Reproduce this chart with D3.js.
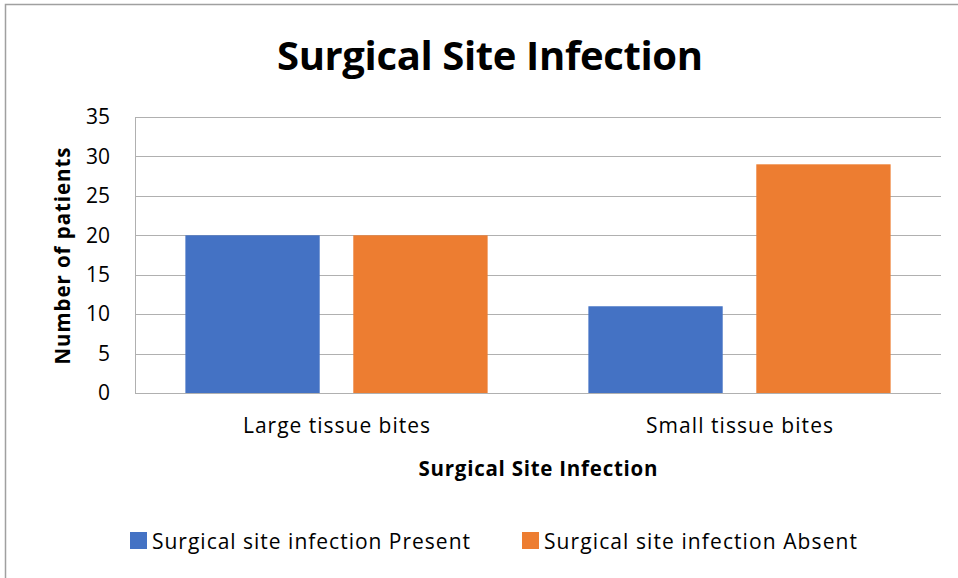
<!DOCTYPE html>
<html>
<head>
<meta charset="utf-8">
<script src="https://cdn.jsdelivr.net/npm/d3@7/dist/d3.min.js"></script>
<style>
  body { margin: 0; background: #fff; }
  text { font-family: "Open Sans", Lato, sans-serif; fill: #000; }
</style>
</head>
<body>
<div class="chart-area"></div>
<script>
var categories = ["Large tissue bites", "Small tissue bites"];
var seriesNames = ["Surgical site infection Present", "Surgical site infection Absent"];
var present = [20, 11];
var absent = [20, 29];
var yTicks = [0, 5, 10, 15, 20, 25, 30, 35];
var colors = ["#4472c4", "#ed7d31"];

var data = categories.map(function (c, i) {
    return { cat: c, values: [present[i], absent[i]] };
});

var W = 958, H = 578;
var margin = { left: 135, right: 17, top: 117, bottom: 185 };
var width = W - margin.left - margin.right,
    height = H - margin.top - margin.bottom;

var svg = d3.select(".chart-area").append("svg")
    .attr("width", W).attr("height", H);

// chart frame
svg.append("path")
    .attr("d", "M5.5,578 L5.5,4.5 L958,4.5")
    .attr("fill", "none").attr("stroke", "#a0a0a0").attr("stroke-width", 1.5);

var g = svg.append("g").attr("transform", "translate(" + margin.left + "," + margin.top + ")");

var x0 = d3.scaleBand().domain(categories).range([0, width]).paddingInner(0.25).paddingOuter(0.125);
var x1 = d3.scaleBand().domain([0, 1]).range([0, x0.bandwidth()]).paddingInner(0.2);
var y = d3.scaleLinear().domain([0, 35]).range([height, 0]);

// gridlines
g.append("g").selectAll("line").data(yTicks).enter().append("line")
    .attr("x1", 0).attr("x2", width)
    .attr("y1", function (d) { return Math.round(y(d)) + 0.5; })
    .attr("y2", function (d) { return Math.round(y(d)) + 0.5; })
    .attr("stroke", "#b0b0b0").attr("stroke-width", 1);

g.append("line").attr("x1", 0.5).attr("x2", 0.5).attr("y1", 0).attr("y2", height)
    .attr("stroke", "#b0b0b0");

var yAxis = g.append("g")
    .call(d3.axisLeft(y).tickValues(yTicks).tickSize(0).tickPadding(25));
yAxis.select(".domain").remove();
yAxis.selectAll("text").style("font-size", "21px").attr("fill", "#000")
    .style("font-family", "'Open Sans', sans-serif");

// bars
var groups = g.selectAll(".grp").data(data).enter().append("g")
    .attr("transform", function (d) { return "translate(" + x0(d.cat) + ",0)"; });
groups.selectAll("rect").data(function (d) { return d.values; }).enter().append("rect")
    .attr("x", function (d, i) { return x1(i); })
    .attr("y", function (d) { return y(d); })
    .attr("width", x1.bandwidth())
    .attr("height", function (d) { return height - y(d); })
    .attr("fill", function (d, i) { return colors[i]; });

// x category labels
var xAxis = g.append("g").attr("transform", "translate(0," + height + ")")
    .call(d3.axisBottom(x0).tickSize(0).tickPadding(25));
xAxis.select(".domain").remove();
xAxis.selectAll("text").style("font-size", "21px").attr("fill", "#000")
    .style("font-family", "'Open Sans', sans-serif")
    .attr("textLength", 187).attr("lengthAdjust", "spacing");

// titles
svg.append("text").attr("x", 490).attr("y", 70).attr("text-anchor", "middle")
    .style("font-size", "40px").style("font-weight", "bold")
    .attr("textLength", 426).attr("lengthAdjust", "spacing")
    .text("Surgical Site Infection");

svg.append("text").attr("x", margin.left + width / 2).attr("y", 476).attr("text-anchor", "middle")
    .style("font-size", "20.5px").style("font-weight", "bold")
    .attr("textLength", 239).attr("lengthAdjust", "spacing")
    .text("Surgical Site Infection");

svg.append("text").attr("transform", "translate(70,256) rotate(-90)").attr("text-anchor", "middle")
    .style("font-size", "20.5px").style("font-weight", "bold")
    .attr("textLength", 217).attr("lengthAdjust", "spacing")
    .text("Number of patients");

// legend
var legendX = [130, 522];
var legendW = [318, 313];
var lg = svg.selectAll(".leg").data(seriesNames).enter().append("g")
    .attr("transform", function (d, i) { return "translate(" + legendX[i] + ",532)"; });
lg.append("rect").attr("width", 17).attr("height", 17)
    .attr("fill", function (d, i) { return colors[i]; });
lg.append("text").attr("x", 22).attr("y", 17).style("font-size", "21px")
    .attr("textLength", function (d, i) { return legendW[i]; }).attr("lengthAdjust", "spacing")
    .text(function (d) { return d; });
</script>
</body>
</html>
